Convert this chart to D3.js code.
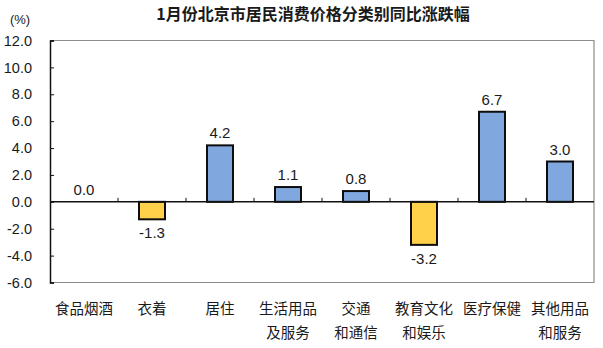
<!DOCTYPE html>
<html>
<head>
<meta charset="utf-8">
<script src="https://cdn.jsdelivr.net/npm/d3@7"></script>
<style>
  html, body { margin: 0; padding: 0; background: #fff; }
  svg { display: block; }
  text { font-family: "Liberation Sans", Arial, "Noto Sans CJK SC", sans-serif; fill: #1a1a1a; }
  .cjk { font-family: "Noto Sans CJK SC", sans-serif; }
</style>
</head>
<body>
<svg id="chart" width="603" height="348"></svg>
<script>
// 1月份北京市居民消费价格 八大类同比涨跌幅 (%)
const categories = [
  ["食品烟酒"],
  ["衣着"],
  ["居住"],
  ["生活用品", "及服务"],
  ["交通", "和通信"],
  ["教育文化", "和娱乐"],
  ["医疗保健"],
  ["其他用品", "和服务"]
];
const values = [0.0, -1.3, 4.2, 1.1, 0.8, -3.2, 6.7, 3.0];
const yTicks = [12, 10, 8, 6, 4, 2, 0, -2, -4, -6];
const title = "1月份北京市居民消费价格分类别同比涨跌幅";
const unitLabel = "(%)";

const svg = d3.select("#chart");
const plot = { left: 50, right: 594, top: 40.5, bottom: 282.5 };

// one decimal, plain hyphen for negatives
const fmt = v => d3.format(".1f")(v).replace("\u2212", "-");

const x = d3.scaleBand()
  .domain(d3.range(categories.length))
  .range([plot.left, plot.right])
  .paddingInner(0).paddingOuter(0);

const y = d3.scaleLinear().domain([-6, 12]).range([plot.bottom, plot.top]);

// title and unit
svg.append("text").attr("class", "cjk")
  .attr("x", 313).attr("y", 20)
  .attr("text-anchor", "middle")
  .attr("font-size", 16).attr("font-weight", "bold")
  .attr("fill", "#262626")
  .text(title);

svg.append("text")
  .attr("x", 20).attr("y", 24)
  .attr("text-anchor", "middle")
  .attr("font-size", 13)
  .text(unitLabel);

// plot frame (top, right, bottom in grey)
svg.append("path")
  .attr("d", `M${plot.left},${plot.top}H${plot.right}V${plot.bottom}H${plot.left}`)
  .attr("fill", "none").attr("stroke", "#8c8c8c").attr("stroke-width", 1.2);

// y axis
const yAxis = d3.axisLeft(y)
  .tickValues(yTicks)
  .tickFormat(fmt)
  .tickSize(-4)
  .tickPadding(18);
const gy = svg.append("g").attr("transform", `translate(${plot.left},0)`).call(yAxis);
gy.select(".domain").attr("stroke", "#111").attr("stroke-width", 1.5);
gy.selectAll(".tick line").attr("stroke", "#111");
gy.selectAll(".tick text")
  .attr("font-size", 14.5)
  .attr("font-family", "'Liberation Sans', Arial, sans-serif")
  .attr("fill", "#1a1a1a");

// bars
svg.append("g").selectAll("rect")
  .data(values)
  .join("rect")
  .attr("x", (d, i) => x(i) + x.bandwidth() / 2 - 13)
  .attr("width", 26)
  .attr("y", d => y(Math.max(0, d)))
  .attr("height", d => Math.abs(y(d) - y(0)))
  .attr("fill", d => d < 0 ? "#ffd14a" : "#80a8de")
  .attr("stroke", "#0d0d0d")
  .attr("stroke-width", 2)
  .attr("display", d => d === 0 ? "none" : null);

// zero line with category separator ticks
svg.append("line")
  .attr("x1", plot.left).attr("x2", plot.right)
  .attr("y1", y(0)).attr("y2", y(0))
  .attr("stroke", "#111").attr("stroke-width", 1.5);
svg.append("g").selectAll("line")
  .data(d3.range(1, categories.length))
  .join("line")
  .attr("x1", i => x(i)).attr("x2", i => x(i))
  .attr("y1", y(0)).attr("y2", y(0) - 4)
  .attr("stroke", "#111").attr("stroke-width", 1);

// value labels
svg.append("g").selectAll("text")
  .data(values)
  .join("text")
  .attr("x", (d, i) => x(i) + x.bandwidth() / 2)
  .attr("y", d => d < 0 ? y(d) + 19 : y(d) - 7)
  .attr("text-anchor", "middle")
  .attr("font-size", 15)
  .text(fmt);

// category labels
const cat = svg.append("g").selectAll("text")
  .data(categories)
  .join("text")
  .attr("class", "cjk")
  .attr("text-anchor", "middle")
  .attr("font-size", 14.5);
cat.each(function(lines, i) {
  const t = d3.select(this);
  lines.forEach((s, k) => {
    t.append("tspan")
      .attr("x", x(i) + x.bandwidth() / 2)
      .attr("y", 314 + k * 24)
      .text(s);
  });
});
</script>
</body>
</html>
